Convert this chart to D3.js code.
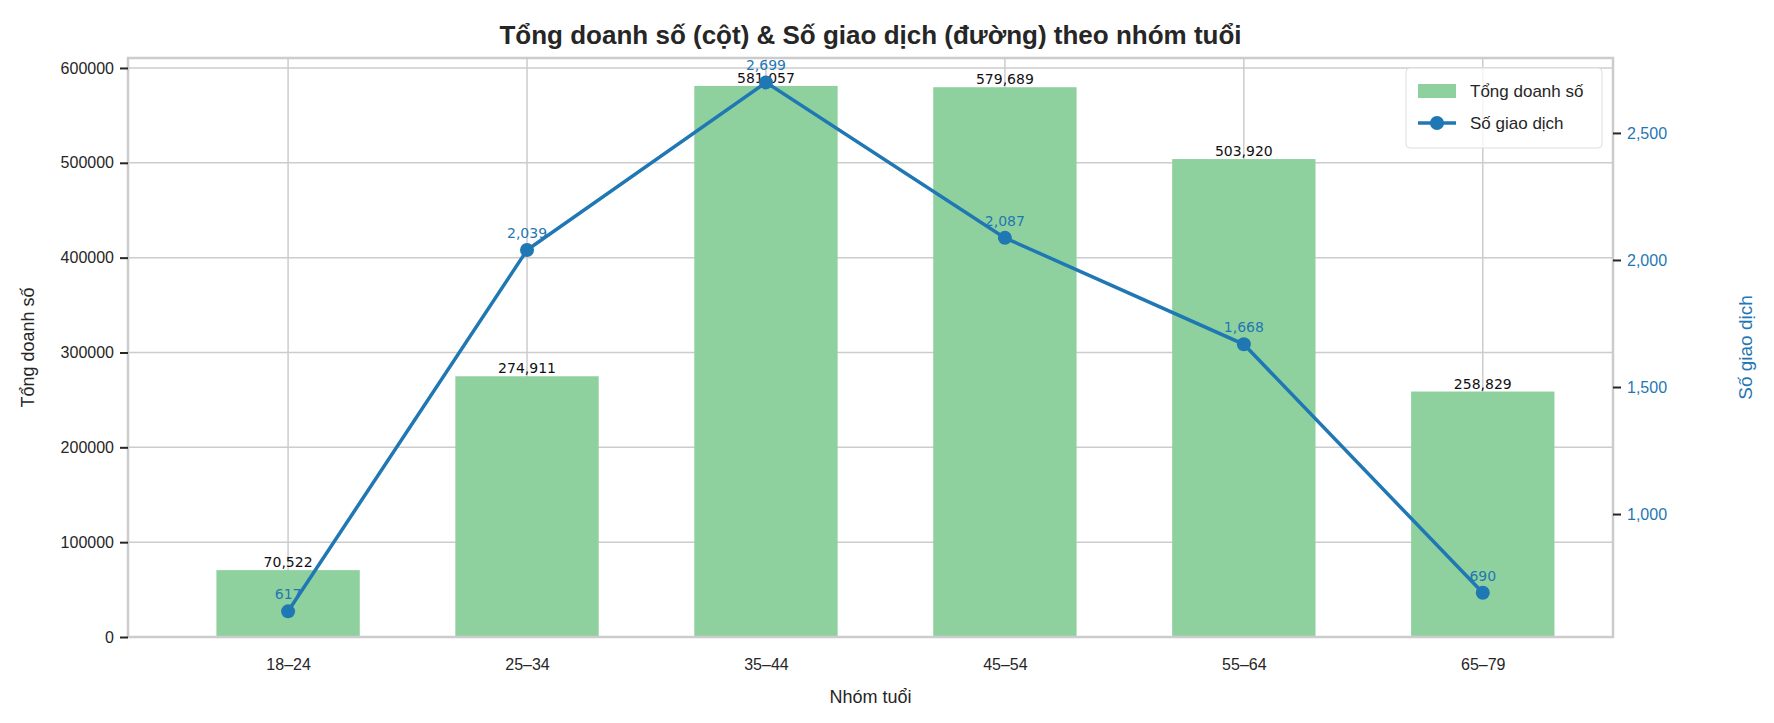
<!DOCTYPE html>
<html><head><meta charset="utf-8">
<script src="https://cdn.jsdelivr.net/npm/d3@7"></script>
<style>body{margin:0;background:#fff;font-family:"DejaVu Sans",Arial,sans-serif}</style>
</head><body><svg id="c" width="1774" height="723"></svg>
<script>
const groups = ['18–24', '25–34', '35–44', '45–54', '55–64', '65–79']
const sales = [70522, 274911, 581057, 579689, 503920, 258829]
const trans = [617, 2039, 2699, 2087, 1668, 690]
const leftTicks = [0, 100000, 200000, 300000, 400000, 500000, 600000]
const rightTicks = [1000, 1500, 2000, 2500]

const svg = d3.select('#c')
const L = 128, R = 1613, T = 58, B = 637
const blue = '#1f77b4', green = '#8fd19e', grid = '#cccccc', txt = '#262626'

const x = d3.scaleLinear().domain([-0.67, 5.545]).range([L, R])
const y = d3.scaleLinear().domain([0, 610500]).range([B, T])
const y2 = d3.scaleLinear().domain([516, 2795]).range([B, T])
const bw = x(0.3) - x(-0.3)

// grid
svg.selectAll('.gy').data(leftTicks).join('line')
    .attr('x1', L).attr('x2', R).attr('y1', d => y(d)).attr('y2', d => y(d))
    .attr('stroke', grid).attr('stroke-width', 1.5)
svg.selectAll('.gx').data(groups).join('line')
    .attr('x1', (d, i) => x(i)).attr('x2', (d, i) => x(i)).attr('y1', T).attr('y2', B)
    .attr('stroke', grid).attr('stroke-width', 1.5)

// bars
svg.selectAll('.bar').data(sales).join('rect')
    .attr('x', (d, i) => x(i) - bw / 2).attr('width', bw)
    .attr('y', d => y(d)).attr('height', d => B - y(d)).attr('fill', green)
svg.selectAll('.bl').data(sales).join('text')
    .attr('x', (d, i) => x(i)).attr('y', d => y(d) - 3)
    .attr('text-anchor', 'middle').attr('font-size', 14).attr('fill', '#111')
    .text(d => d3.format(',')(d))

// line
const line = d3.line().x((d, i) => x(i)).y(d => y2(d))
svg.append('path').datum(trans).attr('d', line).attr('fill', 'none')
    .attr('stroke', blue).attr('stroke-width', 3.5)
svg.selectAll('.pt').data(trans).join('circle')
    .attr('cx', (d, i) => x(i)).attr('cy', d => y2(d)).attr('r', 7).attr('fill', blue)
svg.selectAll('.pl').data(trans).join('text')
    .attr('x', (d, i) => x(i)).attr('y', d => y2(d) - 12)
    .attr('text-anchor', 'middle').attr('font-size', 14).attr('fill', blue)
    .text(d => d3.format(',')(d))

// frame
svg.append('rect').attr('x', L).attr('y', T).attr('width', R - L).attr('height', B - T)
    .attr('fill', 'none').attr('stroke', grid).attr('stroke-width', 2.5)

// axes
const ax = d3.axisLeft(y).tickValues(leftTicks).tickSize(8).tickPadding(6).tickFormat(d3.format('d'))
const gl = svg.append('g').attr('transform', `translate(${L},0)`).call(ax)
gl.select('.domain').remove()
gl.selectAll('line').attr('stroke', txt).attr('stroke-width', 2)
gl.selectAll('text').attr('font-size', 16).attr('fill', txt).attr('font-family', 'Arial, Liberation Sans')

const ar = d3.axisRight(y2).tickValues(rightTicks).tickSize(8).tickPadding(6)
const gr = svg.append('g').attr('transform', `translate(${R},0)`).call(ar)
gr.select('.domain').remove()
gr.selectAll('line').attr('stroke', txt).attr('stroke-width', 2)
gr.selectAll('text').attr('font-size', 16).attr('fill', blue).attr('font-family', 'Arial, Liberation Sans')

const ab = d3.axisBottom(x).tickValues(d3.range(groups.length)).tickSize(0).tickPadding(22).tickFormat(i => groups[i])
const gb = svg.append('g').attr('transform', `translate(0,${B})`).call(ab)
gb.select('.domain').remove()
gb.selectAll('text').attr('font-size', 16).attr('fill', txt).attr('font-family', 'Arial, Liberation Sans')

// labels
svg.append('text').attr('x', (L + R) / 2).attr('y', 44).attr('text-anchor', 'middle')
    .attr('font-size', 26).attr('font-weight', 'bold').attr('fill', txt)
    .attr('font-family', 'Arial, Liberation Sans').text('Tổng doanh số (cột) & Số giao dịch (đường) theo nhóm tuổi')
svg.append('text').attr('x', (L + R) / 2).attr('y', 703).attr('text-anchor', 'middle')
    .attr('font-size', 18).attr('fill', txt).attr('font-family', 'Arial, Liberation Sans').text('Nhóm tuổi')
svg.append('text').attr('transform', `translate(34,${(T + B) / 2}) rotate(-90)`).attr('text-anchor', 'middle')
    .attr('font-size', 18).attr('fill', txt).attr('font-family', 'Arial, Liberation Sans').text('Tổng doanh số')
svg.append('text').attr('transform', `translate(1752,${(T + B) / 2}) rotate(-90)`).attr('text-anchor', 'middle')
    .attr('font-size', 19).attr('fill', blue).attr('font-family', 'Arial, Liberation Sans').text('Số giao dịch')

// legend
const lg = svg.append('g').attr('transform', 'translate(1406,68)')
lg.append('rect').attr('width', 196).attr('height', 80).attr('rx', 4)
    .attr('fill', '#fff').attr('fill-opacity', 0.8).attr('stroke', '#ddd')
lg.append('rect').attr('x', 12).attr('y', 16).attr('width', 38).attr('height', 14).attr('fill', green)
lg.append('line').attr('x1', 12).attr('x2', 50).attr('y1', 55).attr('y2', 55).attr('stroke', blue).attr('stroke-width', 3.5)
lg.append('circle').attr('cx', 31).attr('cy', 55).attr('r', 7).attr('fill', blue)
lg.append('text').attr('x', 64).attr('y', 29).attr('font-size', 17).attr('fill', txt)
    .attr('font-family', 'Arial, Liberation Sans').text('Tổng doanh số')
lg.append('text').attr('x', 64).attr('y', 61).attr('font-size', 17).attr('fill', txt)
    .attr('font-family', 'Arial, Liberation Sans').text('Số giao dịch')
</script></body></html>
